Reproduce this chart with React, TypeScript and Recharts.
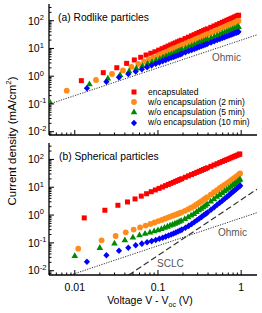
import React from "react";
import { ComposedChart, Scatter, Line, XAxis, YAxis, Legend } from "recharts";

const FONT = "'Liberation Sans', Arial, Helvetica, sans-serif";
const RED = "#ff0000";
const ORANGE = "#ff8c1a";
const GREEN = "#008a00";
const BLUE = "#0000ff";
const GUIDE = "#333333";
const NOTE = "#555555";

// axes
const X_DOMAIN: [number, number] = [0.0049, 1.55];
const Y_DOMAIN_A: [number, number] = [0.0076, 400];
const Y_DOMAIN_B: [number, number] = [0.007, 390];
const X_MAJOR = [0.01, 0.1, 1];
const X_MAJOR_LABELS = ["0.01", "0.1", "1"];
const X_MINOR = [0.005, 0.006, 0.007, 0.008, 0.009, 0.02, 0.03, 0.04, 0.05, 0.06, 0.07, 0.08, 0.09, 0.2, 0.3, 0.4, 0.5, 0.6, 0.7, 0.8, 0.9];
const Y_MAJOR = [0.01, 0.1, 1, 10, 100];
const Y_MAJOR_EXP = ["-2", "-1", "0", "1", "2"];
const Y_MINOR = [0.008, 0.009, 0.02, 0.03, 0.04, 0.05, 0.06, 0.07, 0.08, 0.09, 0.2, 0.3, 0.4, 0.5, 0.6, 0.7, 0.8, 0.9, 2, 3, 4, 5, 6, 7, 8, 9, 20, 30, 40, 50, 60, 70, 80, 90, 200, 300];

// (a) rodlike particles: V - Voc (V) and current density (mA/cm2)
const rodEncV = [0.012, 0.022, 0.032, 0.042, 0.052, 0.062, 0.072, 0.082, 0.092, 0.102, 0.112, 0.122, 0.132, 0.142, 0.152, 0.162, 0.172, 0.182, 0.192, 0.212, 0.232, 0.252, 0.272, 0.292, 0.312, 0.332, 0.352, 0.372, 0.392, 0.432, 0.472, 0.512, 0.552, 0.592, 0.632, 0.672, 0.712, 0.752, 0.792, 0.832, 0.872, 0.912, 0.932];
const rodEncJ = [0.69, 1.34, 2.02, 2.9, 3.85, 4.8, 5.8, 6.7, 7.6, 8.7, 9.8, 11.0, 12.2, 13.4, 14.7, 15.9, 17.3, 18.6, 19.9, 22.7, 25.5, 28.5, 31.4, 34.5, 37.6, 40.8, 44.1, 47.4, 50.7, 57.7, 64.7, 72, 79.5, 87, 95, 103, 111, 119, 127.5, 136, 144.6, 153, 158];

const rod2V = [0.008, 0.018, 0.028, 0.038, 0.048, 0.058, 0.068, 0.078, 0.088, 0.098, 0.108, 0.118, 0.128, 0.138, 0.148, 0.158, 0.168, 0.178, 0.188, 0.198, 0.218, 0.238, 0.258, 0.278, 0.298, 0.318, 0.338, 0.358, 0.378, 0.398, 0.438, 0.478, 0.518, 0.558, 0.598, 0.638, 0.678, 0.718, 0.758, 0.798, 0.838, 0.878, 0.918, 0.93];
const rod2J = [0.3, 0.73, 1.2, 1.62, 2.18, 2.79, 3.42, 4.09, 4.78, 5.49, 6.22, 6.98, 7.74, 8.53, 9.34, 10.2, 11.0, 11.9, 12.7, 13.6, 15.4, 17.2, 19.1, 21.1, 23.0, 25.0, 27.1, 29.2, 31.3, 33.4, 37.9, 42.4, 47.0, 51.7, 56.6, 61.5, 66.5, 71.6, 76.8, 82.1, 87.4, 92.9, 98.3, 100];

const rod5V = [0.005, 0.015, 0.025, 0.035, 0.045, 0.055, 0.065, 0.075, 0.085, 0.095, 0.105, 0.115, 0.125, 0.135, 0.145, 0.155, 0.165, 0.175, 0.185, 0.195, 0.215, 0.235, 0.255, 0.275, 0.295, 0.315, 0.335, 0.355, 0.375, 0.395, 0.435, 0.475, 0.515, 0.555, 0.595, 0.635, 0.675, 0.715, 0.755, 0.795, 0.835, 0.875, 0.915, 0.93];
const rod5J = [0.12, 0.52, 0.84, 1.12, 1.52, 1.94, 2.37, 2.83, 3.29, 3.77, 4.26, 4.76, 5.27, 5.79, 6.32, 6.86, 7.4, 7.95, 8.5, 9.07, 10.2, 11.4, 12.6, 13.8, 15.0, 16.3, 17.6, 18.8, 20.1, 21.5, 24.1, 26.9, 29.7, 32.5, 35.4, 38.3, 41.3, 44.3, 47.3, 50.4, 53.5, 56.6, 59.8, 61];

const rod10V = [0.014, 0.024, 0.034, 0.044, 0.054, 0.064, 0.074, 0.084, 0.094, 0.104, 0.114, 0.124, 0.134, 0.144, 0.154, 0.164, 0.174, 0.184, 0.194, 0.214, 0.234, 0.254, 0.274, 0.294, 0.314, 0.334, 0.354, 0.374, 0.394, 0.434, 0.474, 0.514, 0.554, 0.594, 0.634, 0.674, 0.714, 0.754, 0.794, 0.834, 0.874, 0.914, 0.93];
const rod10J = [0.37, 0.63, 0.91, 1.2, 1.47, 1.79, 2.12, 2.46, 2.8, 3.15, 3.5, 3.86, 4.23, 4.6, 4.97, 5.34, 5.72, 6.11, 6.49, 7.28, 8.07, 8.88, 9.69, 10.5, 11.4, 12.2, 13.0, 13.9, 14.8, 16.5, 18.3, 20.1, 21.9, 23.8, 25.6, 27.5, 29.4, 31.4, 33.3, 35.3, 37.2, 39.2, 40];

// (b) spherical particles
const sphEncV = [0.013, 0.023, 0.033, 0.043, 0.053, 0.063, 0.073, 0.083, 0.093, 0.103, 0.113, 0.123, 0.133, 0.143, 0.153, 0.163, 0.173, 0.183, 0.193, 0.213, 0.233, 0.253, 0.273, 0.293, 0.313, 0.333, 0.353, 0.373, 0.393, 0.433, 0.473, 0.513, 0.553, 0.593, 0.633, 0.673, 0.713, 0.753, 0.793, 0.833, 0.873, 0.913, 0.953, 0.963];
const sphEncJ = [0.79, 1.49, 2.25, 2.96, 3.8, 4.8, 5.85, 6.92, 8.0, 9.1, 10.2, 11.4, 12.6, 13.8, 15.0, 16.3, 17.6, 18.9, 20.2, 22.9, 25.7, 28.5, 31.4, 34.3, 37.3, 40.4, 43.5, 46.7, 49.9, 56.4, 63.1, 69.9, 76.9, 84.1, 91.3, 98.7, 106, 114, 122, 129, 137, 145, 154, 156];

const sph2V = [0.011, 0.021, 0.031, 0.041, 0.051, 0.061, 0.071, 0.081, 0.091, 0.101, 0.111, 0.121, 0.131, 0.141, 0.151, 0.161, 0.171, 0.181, 0.191, 0.211, 0.231, 0.251, 0.271, 0.291, 0.311, 0.331, 0.351, 0.371, 0.391, 0.431, 0.471, 0.511, 0.551, 0.591, 0.631, 0.671, 0.711, 0.751, 0.791, 0.831, 0.871, 0.911, 0.951, 0.971];
const sph2J = [0.062, 0.124, 0.177, 0.24, 0.3, 0.36, 0.42, 0.48, 0.54, 0.61, 0.67, 0.74, 0.81, 0.88, 0.95, 1.02, 1.09, 1.17, 1.25, 1.42, 1.62, 1.84, 2.08, 2.4, 2.75, 3.1, 3.5, 3.95, 4.4, 5.4, 6.6, 7.8, 9.2, 10.7, 12.2, 13.8, 15.5, 17.3, 19.4, 21.6, 24, 26.8, 29.8, 31.5];

const sph5V = [0.01, 0.02, 0.03, 0.04, 0.05, 0.06, 0.07, 0.08, 0.09, 0.1, 0.11, 0.12, 0.13, 0.14, 0.15, 0.16, 0.17, 0.18, 0.19, 0.21, 0.23, 0.25, 0.27, 0.29, 0.31, 0.33, 0.35, 0.37, 0.39, 0.43, 0.47, 0.51, 0.55, 0.59, 0.63, 0.67, 0.71, 0.75, 0.79, 0.83, 0.87, 0.91, 0.95, 0.97];
const sph5J = [0.034, 0.067, 0.097, 0.127, 0.159, 0.19, 0.215, 0.24, 0.265, 0.29, 0.32, 0.355, 0.39, 0.425, 0.46, 0.5, 0.54, 0.58, 0.63, 0.73, 0.85, 0.98, 1.12, 1.3, 1.5, 1.72, 1.95, 2.2, 2.5, 3.1, 3.8, 4.6, 5.4, 6.3, 7.3, 8.3, 9.4, 10.6, 11.9, 13.3, 14.8, 16.5, 18.3, 19.3];

const sph10V = [0.014, 0.024, 0.034, 0.044, 0.054, 0.064, 0.074, 0.084, 0.094, 0.104, 0.114, 0.124, 0.134, 0.144, 0.154, 0.164, 0.174, 0.184, 0.194, 0.214, 0.234, 0.254, 0.274, 0.294, 0.314, 0.334, 0.354, 0.374, 0.394, 0.434, 0.474, 0.514, 0.554, 0.594, 0.634, 0.674, 0.714, 0.754, 0.794, 0.834, 0.874, 0.914, 0.954, 0.974];
const sph10J = [0.021, 0.036, 0.052, 0.067, 0.082, 0.094, 0.105, 0.116, 0.127, 0.14, 0.153, 0.168, 0.184, 0.2, 0.218, 0.237, 0.256, 0.277, 0.3, 0.35, 0.41, 0.48, 0.56, 0.65, 0.75, 0.86, 0.98, 1.1, 1.24, 1.55, 1.92, 2.35, 2.8, 3.3, 3.9, 4.5, 5.2, 6.0, 6.8, 7.7, 8.7, 9.8, 10.9, 11.4];

// guide lines (end points)
const ohmicAV = [0.0049, 1.55];
const ohmicAJ = [0.098, 31];
const ohmicBV = [0.0089, 1.55];
const ohmicBJ = [0.007, 1.22];
const sclcV = [0.0445, 1.55];
const sclcJ = [0.007, 8.5];

const SERIES_NAMES = ["encapsulated", "w/o encapsulation (2 min)", "w/o encapsulation (5 min)", "w/o encapsulation (10 min)"];
const SERIES_COLORS = [RED, ORANGE, GREEN, BLUE];
const SERIES_SHAPES = ["square", "circle", "triangle", "diamond"];

const pts = (v: number[], j: number[]) => v.map((x, i) => ({ v: x, j: j[i] }));
const near = (a: number, b: number) => Math.abs(a / b - 1) < 1e-6;

function marker(shape: string, cx: number, cy: number, color: string) {
  if (shape === "square") return <rect x={cx - 2.5} y={cy - 2.5} width={5} height={5} fill={color} />;
  if (shape === "circle") return <circle cx={cx} cy={cy} r={2.9} fill={color} />;
  if (shape === "triangle")
    return <polygon points={`${cx},${cy - 3.6} ${cx - 3.3},${cy + 2.2} ${cx + 3.3},${cy + 2.2}`} fill={color} />;
  return <polygon points={`${cx},${cy - 3.3} ${cx + 3.1},${cy} ${cx},${cy + 3.3} ${cx - 3.1},${cy}`} fill={color} />;
}

const shapeFn = (i: number) => (p: any) => marker(SERIES_SHAPES[i], p.cx, p.cy, SERIES_COLORS[i]);

function xTick(side: "bottom" | "top", labels: boolean) {
  return (p: any) => {
    const v = p.payload.value;
    const i = X_MAJOR.findIndex((m) => near(m, v));
    const len = i >= 0 ? 5 : 2.5;
    const dir = side === "bottom" ? -1 : 1;
    return (
      <g>
        <line x1={p.x} x2={p.x} y1={p.y} y2={p.y + dir * len} stroke="#000" strokeWidth={1} />
        {labels && i >= 0 && (
          <text x={p.x} y={p.y + 15.5} textAnchor="middle" fontSize={10.5} fontFamily={FONT} fill="#000">
            {X_MAJOR_LABELS[i]}
          </text>
        )}
      </g>
    );
  };
}

function yTick(side: "left" | "right") {
  return (p: any) => {
    const v = p.payload.value;
    const i = Y_MAJOR.findIndex((m) => near(m, v));
    const len = i >= 0 ? 5 : 2.5;
    const dir = side === "left" ? 1 : -1;
    return (
      <g>
        <line x1={p.x} x2={p.x + dir * len} y1={p.y} y2={p.y} stroke="#000" strokeWidth={1} />
        {side === "left" && i >= 0 && (
          <text x={p.x - 21} y={p.y + 3.8} fontSize={10.5} fontFamily={FONT} fill="#000">
            10
            <tspan dy={-4.4} fontSize={7.5}>
              {Y_MAJOR_EXP[i]}
            </tspan>
          </text>
        )}
      </g>
    );
  };
}

const xTicks = [...X_MAJOR, ...X_MINOR].sort((a, b) => a - b);
const yTicksFor = (d: [number, number]) =>
  [...Y_MAJOR, ...Y_MINOR].filter((t) => t >= d[0] * 1.02 && t <= d[1]).sort((a, b) => a - b);

const AXIS_LINE = { stroke: "#000", strokeWidth: 1.3 };

function Frame(yDomain: [number, number], bottomLabels: boolean, bottomHeight: number) {
  const yTicks = yTicksFor(yDomain);
  return [
    <XAxis key="xb" xAxisId={0} dataKey="v" type="number" scale="log" domain={X_DOMAIN} allowDataOverflow ticks={xTicks} interval={0} height={bottomHeight} tickSize={0} tickMargin={0} tickLine={false} axisLine={AXIS_LINE} tick={xTick("bottom", bottomLabels)} />,
    <XAxis key="xt" xAxisId="top" orientation="top" dataKey="v" type="number" scale="log" domain={X_DOMAIN} allowDataOverflow ticks={xTicks} interval={0} height={0} tickSize={0} tickMargin={0} tickLine={false} axisLine={AXIS_LINE} tick={xTick("top", false)} />,
    <YAxis key="yl" yAxisId={0} dataKey="j" type="number" scale="log" domain={yDomain} allowDataOverflow ticks={yTicks} interval={0} width={49} tickSize={0} tickMargin={0} tickLine={false} axisLine={AXIS_LINE} tick={yTick("left")} />,
    <YAxis key="yr" yAxisId="right" orientation="right" dataKey="j" type="number" scale="log" domain={yDomain} allowDataOverflow ticks={yTicks} interval={0} width={0} tickSize={0} tickMargin={0} tickLine={false} axisLine={AXIS_LINE} tick={yTick("right")} />,
  ];
}

function LegendBox() {
  return (
    <div style={{ fontFamily: FONT, fontSize: 8.5, color: "#000" }}>
      {SERIES_NAMES.map((name, i) => (
        <div key={name} style={{ display: "flex", alignItems: "center", height: 10.3 }}>
          <svg width={10} height={10} style={{ flex: "none" }}>
            {marker(SERIES_SHAPES[i], 5, 5, SERIES_COLORS[i])}
          </svg>
          <span style={{ marginLeft: 9, whiteSpace: "nowrap", lineHeight: "10.3px" }}>{name}</span>
        </div>
      ))}
    </div>
  );
}

export default function App() {
  const rod = [pts(rodEncV, rodEncJ), pts(rod2V, rod2J), pts(rod5V, rod5J), pts(rod10V, rod10J)];
  const sph = [pts(sphEncV, sphEncJ), pts(sph2V, sph2J), pts(sph5V, sph5J), pts(sph10V, sph10J)];
  return (
    <div style={{ position: "absolute", left: 0, top: 0, width: 262, height: 313, background: "#fff", fontFamily: FONT }}>
      <div style={{ position: "absolute", left: 0, top: 0 }}>
        <ComposedChart width={262} height={140} margin={{ top: 4, right: 5, bottom: 0, left: 0 }}>
          {Frame(Y_DOMAIN_A, false, 5)}
          <Line data={pts(ohmicAV, ohmicAJ)} dataKey="j" stroke={GUIDE} strokeWidth={1} strokeDasharray="1.2 1.3" dot={false} isAnimationActive={false} />
          {rod.map((d, i) => (
            <Scatter key={i} name={SERIES_NAMES[i]} data={d} fill={SERIES_COLORS[i]} shape={shapeFn(i)} isAnimationActive={false} />
          ))}
          <Legend layout="vertical" align="center" verticalAlign="middle" wrapperStyle={{ left: 129, top: 86.5, width: 130, height: 42 }} content={() => <LegendBox />} />
        </ComposedChart>
      </div>
      <div style={{ position: "absolute", left: 0, top: 140 }}>
        <ComposedChart width={262} height={173} margin={{ top: 3, right: 5, bottom: 0, left: 0 }}>
          {Frame(Y_DOMAIN_B, true, 38)}
          <Line data={pts(ohmicBV, ohmicBJ)} dataKey="j" stroke={GUIDE} strokeWidth={1} strokeDasharray="1.2 1.3" dot={false} isAnimationActive={false} />
          <Line data={pts(sclcV, sclcJ)} dataKey="j" stroke={GUIDE} strokeWidth={1.2} strokeDasharray="6 3" dot={false} isAnimationActive={false} />
          {sph.map((d, i) => (
            <Scatter key={i} name={SERIES_NAMES[i]} data={d} fill={SERIES_COLORS[i]} shape={shapeFn(i)} isAnimationActive={false} />
          ))}
        </ComposedChart>
      </div>
      <svg width={262} height={313} style={{ position: "absolute", left: 0, top: 0, pointerEvents: "none" }} fontFamily={FONT}>
        <text x={58} y={20.5} fontSize={10.3} fill="#000">(a) Rodlike particles</text>
        <text x={59} y={160} fontSize={10.3} fill="#000">(b) Spherical particles</text>
        <text x={212} y={61} fontSize={10} fill={NOTE}>Ohmic</text>
        <text x={218} y={236} fontSize={10} fill={NOTE}>Ohmic</text>
        <text x={157} y={266.5} fontSize={10} fill={NOTE}>SCLC</text>
        <text x={150} y={304} fontSize={10.5} textAnchor="middle" fill="#000">
          Voltage V - V<tspan dy={2.5} fontSize={7}>oc</tspan>
          <tspan dy={-2.5}> (V)</tspan>
        </text>
        <text transform="translate(15.5,141) rotate(-90)" fontSize={11.5} textAnchor="middle" fill="#000">
          Current density (mA/cm<tspan dy={-4.6} fontSize={7.8}>2</tspan>
          <tspan dy={4.6}>)</tspan>
        </text>
      </svg>
    </div>
  );
}
